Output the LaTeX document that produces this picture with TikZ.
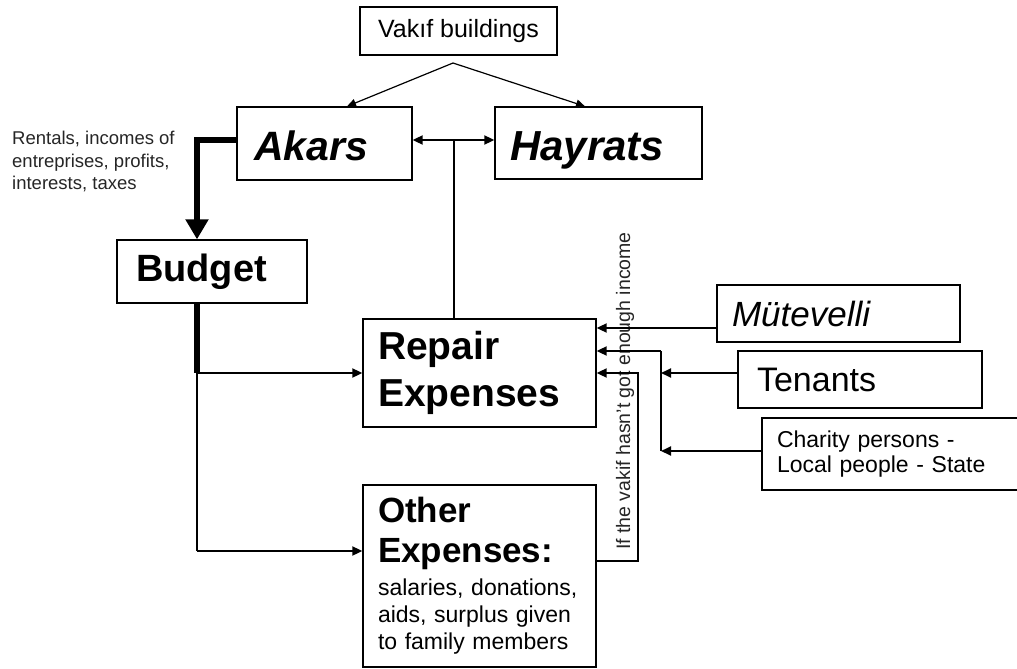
\documentclass[tikz,border=0pt]{standalone}
\usepackage{fontspec}
\setmainfont{Liberation Sans}
\usetikzlibrary{arrows.meta,calc}
\newcommand{\fs}[2]{\fontsize{#1}{#2}\selectfont}
\begin{document}
\begin{tikzpicture}[x=1pt,y=-1pt,
  box/.style={draw,line width=1.3pt,rectangle,inner ysep=0pt},
  conn/.style={line width=1.8pt},
  arr/.style={conn,-{Triangle[length=10pt,width=9pt]}},
  thinarr/.style={line width=1.2pt,-{Triangle[length=9pt,width=8pt]}},
  thick conn/.style={line width=5.5pt},
]
\useasboundingbox (0,0) rectangle (1017,669);
\clip (0,0) rectangle (1017,669);
\fill[white] (0,0) rectangle (1017,669);

% boxes
\node[box,minimum width=197pt,minimum height=48pt,font=\fs{25}{30}] (vak) at (458.5,31) {Vak\i f buildings};
\node[box,text width=141pt,inner xsep=17pt,align=left,minimum height=73pt,text height=33pt,text depth=0pt,font=\fs{41}{48}\bfseries\itshape] (akars) at (324.5,143.5) {Akars};
\node[box,text width=177pt,inner xsep=15pt,align=left,minimum height=72pt,text height=34pt,text depth=0pt,font=\fs{42}{48}\bfseries\itshape] (hayrats) at (598.5,143) {Hayrats};
\node[box,text width=152pt,inner xsep=19pt,align=left,minimum height=63pt,font=\fs{38}{44}\bfseries] (budget) at (212,271.5) {Budget};
\node[box,text width=203pt,inner xsep=15pt,align=left,minimum height=108pt,font=\fs{39}{47}\bfseries] (repair) at (479.5,373) {Repair\\Expenses};
\node[box,text width=203pt,inner xsep=15pt,align=left,minimum height=182pt] (other) at (479.5,576)
  {{\fs{35}{40}\bfseries Other\\Expenses:\par}\vspace{6pt}{\fs{23}{27}\spaceskip=0.33em salaries, donations,\\aids, surplus given\\to family members\par}};
\node[box,text width=213pt,inner xsep=15pt,align=left,minimum height=57pt,font=\fs{35}{40}\itshape] (mut) at (838.5,313.5) {Mütevelli};
\node[box,text width=206pt,inner xsep=19pt,align=left,minimum height=57pt,font=\fs{34}{40}] (tenants) at (860,379.5) {Tenants};
\node[box,text width=228pt,inner xsep=15pt,align=left,minimum height=72pt,font=\fs{23}{25}] (charity) at (891,454) {Charity persons -\\Local people - State};

% free texts
\node[anchor=north west,inner sep=0pt,align=left,font=\fs{18.5}{22.5},text=black!85] (rent) at (12,131)
  {Rentals, incomes of\\entreprises, profits,\\interests, taxes};
\node[rotate=90,inner sep=0pt,font=\fs{19.5}{22},text=black!85] (cond) at (625,391) {If the vakif hasn't got enough income};

% connectors
\coordinate (fork) at (453,63);
\draw[thinarr] (fork) -- ([xshift=22.5pt]akars.north);
\draw[thinarr] (fork) -- ([xshift=-13.5pt]hayrats.north);
\draw[conn,{Triangle[length=10pt,width=9pt]}-{Triangle[length=10pt,width=9pt]}] (akars.east |- 0,140) -- (hayrats.west |- 0,140);
\draw[conn] ([xshift=-25.5pt]repair.north) -- ([xshift=-25.5pt]repair.north |- 0,140);

\draw[thick conn,-{Triangle[length=20pt,width=22pt]},line join=miter] (akars.west |- 0,140) -| ([xshift=-15pt]budget.north);
\coordinate (bj) at (197,373);
\coordinate (bk) at (197,551);
\draw[thick conn] ([xshift=-15pt]budget.south) -- (bj);
\draw[conn] (bj) -- (bk);
\draw[arr] (bj) -- (bj -| repair.west);
\draw[arr] (bk) -- (bk -| other.west);

\coordinate (m1) at (717,328);
\draw[arr] (m1) -- (m1 -| repair.east);
\coordinate (vx) at (661,351);
\coordinate (vy) at (661,451);
\draw[conn] (vy) -- (vx);
\draw[arr] (vx) -- (vx -| repair.east);
\draw[arr] (tenants.west |- 0,373) -- (vx |- 0,373);
\draw[arr] (charity.west |- vy) -- (vy);
\coordinate (o1) at (638,561);
\coordinate (o2) at (638,373);
\draw[arr] (o1 -| other.east) -- (o1) -- (o2) -- (o2 -| repair.east);
\end{tikzpicture}
\end{document}
